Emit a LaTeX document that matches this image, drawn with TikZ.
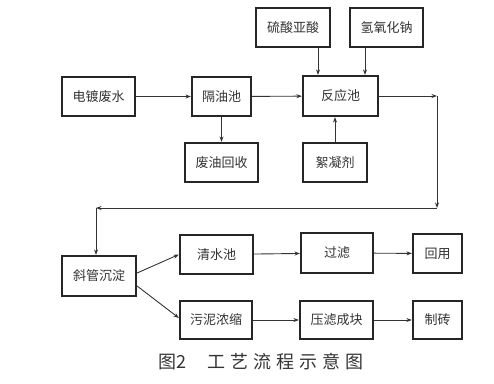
\documentclass[tikz,border=0pt]{standalone}
\usepackage{fontspec}
\setmainfont{Noto Sans CJK SC}
\usetikzlibrary{arrows.meta}
\begin{document}
\begin{tikzpicture}[x=1pt,y=-1pt,
  box/.style={draw=black!85,line width=2.2pt,minimum height=39pt,inner sep=0pt,font=\fontsize{13}{13}\selectfont,text=black!80},
  arr/.style={line width=0.9pt,draw=black!80,-{Stealth[length=5.5pt,width=4pt]}},
  ln/.style={line width=0.9pt,draw=black!80}]
\useasboundingbox (0,0) rectangle (494,383);
\node[box,minimum width=73pt] (ddfs) at (98.5,96.5) {电镀废水};
\node[box,minimum width=59pt] (gyc) at (221.5,96.5) {隔油池};
\node[box,minimum width=75pt,minimum height=40pt] (fyc) at (340.5,96) {反应池};
\node[box,minimum width=74pt] (lsys) at (293,27.5) {硫酸亚酸};
\node[box,minimum width=73pt] (qyhn) at (386.5,27.5) {氢氧化钠};
\node[box,minimum width=73pt] (fyhs) at (221.5,162.5) {废油回收};
\node[box,minimum width=64pt] (xnj) at (335,162.5) {絮凝剂};
\node[box,minimum width=74pt,minimum height=40pt] (xgcd) at (99,276) {斜管沉淀};
\node[box,minimum width=73pt] (qsc) at (216.5,254.5) {清水池};
\node[box,minimum width=72pt,minimum height=40pt] (gl) at (337,253) {过滤};
\node[box,minimum width=49pt] (hy) at (437.5,253.5) {回用};
\node[box,minimum width=72pt,minimum height=38pt] (wnns) at (216,320) {污泥浓缩};
\node[box,minimum width=73pt,minimum height=38pt] (lzck) at (336.5,320) {压滤成块};
\node[box,minimum width=49pt,minimum height=38pt] (zz) at (437.5,320) {制砖};
\node[font=\fontsize{18}{18}\selectfont,text=black!80] (cap) at (261,362) {图2\hspace{22pt}工\hspace{5pt}艺\hspace{5pt}流\hspace{5pt}程\hspace{5pt}示\hspace{5pt}意\hspace{5pt}图};
% coordinates
\coordinate (xa) at (318,0);
\coordinate (xb) at (365,0);
\coordinate (c1) at (437,96);
\coordinate (c2) at (437,208);
\coordinate (c3) at (96,208);
\coordinate (xc) at (96,0);
% connectors
\draw[arr] (ddfs) -- (gyc);
\draw[arr] (gyc) -- (fyc);
\draw[arr] (gyc) -- (fyhs);
\draw[arr] (lsys.south -| xa) -- (fyc.north -| xa);
\draw[arr] (qyhn.south -| xb) -- (fyc.north -| xb);
\draw[arr] (xnj) -- (xnj |- fyc.south);
\draw[arr] (fyc.east) -- (c1);
\draw[arr] (c1) -- (c2);
\draw[arr] (c2) -- (c3);
\draw[arr] (c3) -- (xgcd.north -| xc);
\draw[arr] ([yshift=3pt]xgcd.east) -- (qsc.west);
\draw[arr] ([yshift=-10pt]xgcd.east) -- ([yshift=2pt]wnns.west);
\draw[arr] (qsc) -- (gl);
\draw[arr] (gl) -- (hy);
\draw[arr] (wnns) -- (lzck);
\draw[arr] (lzck) -- (zz);
\end{tikzpicture}
\end{document}
